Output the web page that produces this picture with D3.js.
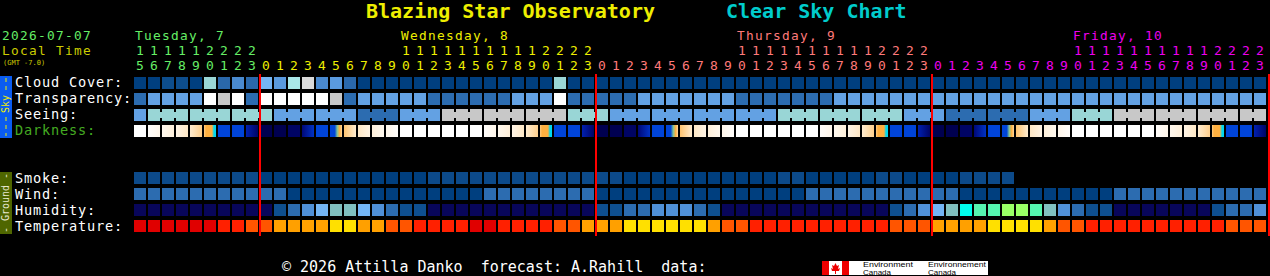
<!DOCTYPE html>
<html>
<head>
<meta charset="utf-8">
<script src="https://cdn.jsdelivr.net/npm/d3@7"></script>
<style>
  body { margin: 0; background: #000; }
  svg text { font-family: "DejaVu Sans Mono", monospace; }
</style>
</head>
<body>
<div id="chart"></div>
<script>
var svgWidth = 1270;
var svgHeight = 276;

// hour of each column (local time), Tue 15h .. Fri 23h
var hours = [15,16,17,18,19,20,21,22,23,
  0,1,2,3,4,5,6,7,8,9,10,11,12,13,14,15,16,17,18,19,20,21,22,23,
  0,1,2,3,4,5,6,7,8,9,10,11,12,13,14,15,16,17,18,19,20,21,22,23,
  0,1,2,3,4,5,6,7,8,9,10,11,12,13,14,15,16,17,18,19,20,21,22,23];

var dayNames = ["Tuesday, 7", "Wednesday, 8", "Thursday, 9", "Friday, 10"];
var dayStartCol = [0, 9, 33, 57];
var dayColors = ["#66ee66", "#eeee00", "#ff7a7a", "#ee00ee"];

var skyRows = ["Cloud Cover:", "Transparency:", "Seeing:", "Darkness:"];
var groundRows = ["Smoke:", "Wind:", "Humidity:", "Temperature:"];

// levels, one per hour column
var cloud = [0,0,1,1,0,6,2,3,2,5,4,7,9,3,4,2,0,0,0,0,0,0,0,0,0,0,0,0,0,0,
  6,0,0,0,0,0,0,0,0,0,0,0,0,0,0,0,0,0,0,0,0,0,0,0,0,0,0,0,0,0,
  0,0,0,0,0,0,0,0,0,0,0,0,0,0,0,0,0,0,0,0,0];

var transparency = [2,3,3,3,3,5,4,5,2,5,5,5,5,5,4,2,3,3,3,3,3,2,2,2,2,2,2,3,3,3,
  5,2,2,2,2,2,3,3,3,3,3,3,3,2,2,2,2,2,2,2,3,3,3,3,3,3,3,3,3,3,
  3,3,3,3,3,3,3,3,3,3,3,3,3,3,3,3,3,3,3,3,3];

var seeing = [3,4,4,4,4,4,4,4,4,4,3,3,3,3,3,3,2,2,2,3,3,3,5,5,5,5,5,5,5,5,
  5,4,4,4,3,3,3,3,3,3,3,3,3,3,3,3,4,4,4,4,4,4,4,4,4,3,3,3,2,2,
  2,2,2,2,3,3,3,4,4,4,5,5,5,5,5,5,5,5,5,5,5];

// darkness: list of levels across each hour cell (left -> right)
var SS = [3.3,4,4,4,4,5,5];     // sunset
var SR = [6,6,6,4.5,4,3];       // sunrise
var darkness = [
  [0],[0.2,1],[0.8,1.6],[1.2,2.2],[2,3.2],SS,[6],[6],[7,8.5],[9],[9],[8.5],[8,6.5],[6],SR,
  [3.5,2],[2.2,1.2],[1.6,0.8],[1,0.2],
  [0],[0],[0],[0],[0],[0],
  [0.2,1],[0.8,1.6],[1.2,2.2],[2,3.2],SS,[6],[6],[7,8.5],[9],[9],[8.5],[8,6.5],[6],SR,
  [3.5,2],[2.2,1.2],[1.6,0.8],[1,0.2],
  [0],[0],[0],[0],[0],[0],
  [0.2,1],[0.8,1.6],[1.2,2.2],[2,3.2],SS,[6],[6],[7,8.5],[9],[9],[8.5],[8,6.5],[6],SR,
  [3.5,2],[2.2,1.2],[1.6,0.8],[1,0.2],
  [0],[0],[0],[0],[0],[0],
  [0.2,1],[0.8,1.6],[1.2,2.2],[2,3.2],SS,[6],[6],[7,8.5]
];

var smoke = [1,1,1,1,1,1,1,1,1,0,0,0,0,0,0,0,0,0,0,0,0,1,1,1,1,1,1,1,1,1,
  1,1,1,1,1,0,0,0,0,0,0,0,0,0,0,0,1,1,0,0,0,0,0,1,1,0,0,0,0,1,
  1,1,1];

var wind = [2,2,2,2,2,2,2,2,2,2,2,0,0,0,0,0,0,0,0,0,0,0,0,0,0,2,2,2,2,2,
  2,2,2,0,0,0,0,0,0,0,0,0,0,0,0,0,0,0,2,2,2,2,2,2,2,2,2,2,2,0,
  0,0,0,0,0,0,0,0,0,0,2,2,2,2,2,2,2,2,2,2,2];

var humidity = [0,0,0,0,0,0,0,0,0,0,1,2,3,4,5,5,4,3,2,1,1,0,0,0,0,0,0,0,0,0,
  0,0,0,1,1,2,2,3,3,3,2,1,0,0,0,0,0,0,0,0,0,0,0,0,1,2,3,4,5,6,
  7,7,8,8,7,5,3,2,1,1,0,0,0,0,0,0,0,1,2,2,3];

var temperature = [0,0,0,0,0,0,1,1,2,2,3,3,3,3,4,4,3,3,2,2,1,1,1,1,0,0,1,1,1,1,
  2,2,3,3,3,4,4,4,4,4,4,3,2,2,1,1,1,1,1,1,1,1,1,1,2,2,2,3,3,3,
  3,4,4,4,4,3,2,2,1,1,1,1,1,1,1,1,1,1,2,2,2];

// colour scales
var cloudColor = d3.scaleOrdinal().domain(d3.range(11))
  .range(["#003f7f","#0d4d8d","#2a68ab","#4a8ad0","#5a9ade","#75b5f5","#99d6d6","#aae8e8","#c8c8c8","#dadada","#fafafa"]);
var transColor = d3.scaleOrdinal().domain(d3.range(6))
  .range(["#003f7f","#134f8f","#2c6cb0","#63a1e3","#c8c8c8","#ffffff"]);
var seeingColor = d3.scaleOrdinal().domain(d3.range(6))
  .range(["#003f7f","#134f8f","#2c6cb0","#63a1e3","#99d6d6","#c8c8c8"]);
var smokeColor = d3.scaleOrdinal().domain([0,1]).range(["#003f7f","#0c4a8a"]);
var windColor = d3.scaleOrdinal().domain([0,1,2]).range(["#003f7f","#134f8f","#2c6cb0"]);
var humidColor = d3.scaleOrdinal().domain(d3.range(9))
  .range(["#08065a","#0e4f8f","#2c6cb0","#4f90d8","#73b5f5","#80c0c0","#00ffee","#55f5b0","#99ff66"]);
var tempColor = d3.scaleOrdinal().domain(d3.range(5))
  .range(["#e00000","#ff2000","#ff5500","#ffa000","#ffe000"]);
var darkColor = d3.scaleLinear().domain([0,1,2,3,4,5,6,7,8,9])
  .range(["#ffffff","#fff6ea","#ffecd0","#ffd8a0","#ffb040","#00d8f0","#0044d8","#0020b0","#000878","#000050"]);

var svg = d3.select("#chart").append("svg")
  .attr("width", svgWidth)
  .attr("height", svgHeight);

svg.append("rect").attr("width", svgWidth).attr("height", svgHeight).attr("fill", "#000");

var xBand = d3.scaleBand()
  .domain(d3.range(hours.length))
  .range([134, 1266])
  .paddingInner(2 / 14)
  .paddingOuter(0);

var skyY = d3.scaleBand().domain(skyRows).range([77, 137]).paddingInner(0.25);
var groundY = d3.scaleBand().domain(groundRows).range([172, 232]).paddingInner(0.25);

// small text helper: keeps the 9px character pitch of the original font
function label(sel, size) {
  return sel.style("font-size", size + "px")
    .style("letter-spacing", (9 - size * 0.602).toFixed(2) + "px");
}

// ---- header ----
svg.append("text").attr("x", 366).attr("y", 18)
  .style("font-size", "20px").style("font-weight", "bold")
  .attr("fill", "#eeee00").text("Blazing Star Observatory");
svg.append("text").attr("x", 726).attr("y", 18)
  .style("font-size", "20px").style("font-weight", "bold")
  .attr("fill", "#00cccc").text("Clear Sky Chart");

label(svg.append("text").attr("x", 2).attr("y", 40), 12.8)
  .attr("fill", "#66ee66").text("2026-07-07");
label(svg.append("text").attr("x", 2).attr("y", 55), 12.8)
  .attr("fill", "#cccc00").text("Local Time");
svg.append("text").attr("x", 3).attr("y", 65).style("font-size", "7px")
  .attr("fill", "#cccc00").text("(GMT -7.0)");

// which day each column belongs to
var dayOf = hours.map((h, i) => d3.bisectRight(dayStartCol, i) - 1);

dayNames.forEach(function(name, d) {
  var first = hours.findIndex((h, i) => dayOf[i] === d && h >= 10);
  label(svg.append("text").attr("x", xBand(first) + 1).attr("y", 40), 12.8)
    .attr("fill", dayColors[d])
    .text(name);
});

svg.append("g").selectAll("text")
  .data(hours.map((h, i) => ({h: h, i: i})).filter(d => d.h >= 10))
  .enter().append("text")
  .attr("x", d => xBand(d.i) + xBand.bandwidth() / 2)
  .attr("y", 55)
  .attr("text-anchor", "middle")
  .style("font-size", "13px")
  .attr("fill", d => dayColors[dayOf[d.i]])
  .text(d => Math.floor(d.h / 10));

svg.append("g").selectAll("text")
  .data(hours)
  .enter().append("text")
  .attr("x", (h, i) => xBand(i) + xBand.bandwidth() / 2)
  .attr("y", 70)
  .attr("text-anchor", "middle")
  .style("font-size", "13px")
  .attr("fill", (h, i) => dayColors[dayOf[i]])
  .text(h => h % 10);

// ---- side bars ----
svg.append("rect").attr("x", 0).attr("y", 76).attr("width", 12).attr("height", 62).attr("fill", "#0a5cf0");
svg.append("line").attr("x1", 6).attr("x2", 6).attr("y1", 78).attr("y2", 92)
  .attr("stroke", "#eeee00").attr("stroke-dasharray", "4,4");
svg.append("line").attr("x1", 6).attr("x2", 6).attr("y1", 117).attr("y2", 136)
  .attr("stroke", "#eeee00").attr("stroke-dasharray", "4,4");
svg.append("text").attr("transform", "translate(9,104) rotate(-90)")
  .attr("text-anchor", "middle").style("font-size", "10px")
  .attr("fill", "#eeee00").text("Sky");

svg.append("rect").attr("x", 0).attr("y", 172).attr("width", 12).attr("height", 62).attr("fill", "#4f6600");
svg.append("text").attr("transform", "translate(9,203) rotate(-90)")
  .attr("text-anchor", "middle").style("font-size", "10px")
  .attr("fill", "#e8e8d0").text("- Ground -");

// ---- row labels ----
label(svg.append("g").selectAll("text").data(skyRows).enter().append("text")
  .attr("x", 15).attr("y", d => skyY(d) + 10), 13.6)
  .attr("fill", d => d === "Darkness:" ? "#44aa22" : "#ffffff")
  .text(d => d);
label(svg.append("g").selectAll("text").data(groundRows).enter().append("text")
  .attr("x", 15).attr("y", d => groundY(d) + 11), 13.6)
  .attr("fill", "#ffffff")
  .text(d => d);

// ---- cells ----
function drawRow(values, y, color) {
  svg.append("g").selectAll("rect")
    .data(values.map((v, i) => ({v: v, i: i})).filter(d => d.v !== null))
    .enter().append("rect")
    .attr("x", d => xBand(d.i))
    .attr("y", y)
    .attr("width", xBand.bandwidth())
    .attr("height", skyY.bandwidth())
    .attr("fill", d => color(d.v));
}

drawRow(cloud, skyY("Cloud Cover:"), cloudColor);
drawRow(transparency, skyY("Transparency:"), transColor);

// seeing: cells joined within 3-hour blocks
var seeY = skyY("Seeing:");
drawRow(seeing, seeY, seeingColor);
svg.append("g").selectAll("rect")
  .data(seeing.map((v, i) => ({v: v, i: i}))
    .filter(d => d.i < seeing.length - 1 && (hours[d.i + 1] + 8) % 3 !== 0 && seeing[d.i + 1] === d.v))
  .enter().append("rect")
  .attr("x", d => xBand(d.i) + xBand.bandwidth())
  .attr("y", seeY + 3)
  .attr("width", xBand.step() - xBand.bandwidth())
  .attr("height", 6)
  .attr("fill", d => seeingColor(d.v));

// darkness: gradient per cell
var defs = svg.append("defs");
darkness.forEach(function(stops, i) {
  var g = defs.append("linearGradient").attr("id", "dk" + i)
    .attr("x1", "0%").attr("x2", "100%").attr("y1", "0%").attr("y2", "0%");
  stops.forEach(function(s, k) {
    g.append("stop")
      .attr("offset", stops.length > 1 ? (k / (stops.length - 1) * 100) + "%" : "0%")
      .attr("stop-color", darkColor(s));
  });
});
svg.append("g").selectAll("rect")
  .data(darkness)
  .enter().append("rect")
  .attr("x", (d, i) => xBand(i))
  .attr("y", skyY("Darkness:"))
  .attr("width", xBand.bandwidth())
  .attr("height", skyY.bandwidth())
  .attr("fill", (d, i) => "url(#dk" + i + ")");

drawRow(smoke, groundY("Smoke:"), smokeColor);
drawRow(wind, groundY("Wind:"), windColor);
drawRow(humidity, groundY("Humidity:"), humidColor);
drawRow(temperature, groundY("Temperature:"), tempColor);

// ---- midnight lines ----
var midnights = dayStartCol.slice(1).concat([hours.length]);
svg.append("g").selectAll("line")
  .data(midnights)
  .enter().append("line")
  .attr("x1", d => (d < hours.length ? xBand(d) : xBand(d - 1) + xBand.step() + 1))
  .attr("x2", d => (d < hours.length ? xBand(d) : xBand(d - 1) + xBand.step() + 1))
  .attr("y1", 74)
  .attr("y2", 236)
  .attr("stroke", "#ff0000")
  .attr("stroke-width", 2);

// ---- footer ----
svg.append("text").attr("x", 282).attr("y", 272).style("font-size", "15px")
  .attr("fill", "#ffffff")
  .style("white-space", "pre")
  .text("\u00a9 2026 Attilla Danko  forecast: A.Rahill  data:");

var logo = svg.append("g").attr("transform", "translate(822,261)");
logo.append("rect").attr("width", 166).attr("height", 14).attr("fill", "#ffffff");
logo.append("rect").attr("width", 7).attr("height", 14).attr("fill", "#ee0000");
logo.append("rect").attr("x", 20).attr("width", 7).attr("height", 14).attr("fill", "#ee0000");
logo.append("path").attr("d", "M13.5,2 L15,5 L17,4 L16,8 L18,7 L17,10 L14,10 L14,13 L13,13 L13,10 L10,10 L9,7 L11,8 L10,4 L12,5 Z")
  .attr("fill", "#ee0000");
[["Environment", 41, 6, 50], ["Canada", 41, 13.5, 28], ["Environnement", 106, 6, 58], ["Canada", 106, 13.5, 28]].forEach(function(t) {
  logo.append("text").attr("x", t[1]).attr("y", t[2])
    .attr("textLength", t[3]).attr("lengthAdjust", "spacingAndGlyphs")
    .style("font-family", "Liberation Sans, sans-serif")
    .style("font-size", "6.5px").attr("fill", "#000").text(t[0]);
});
</script>
</body>
</html>
